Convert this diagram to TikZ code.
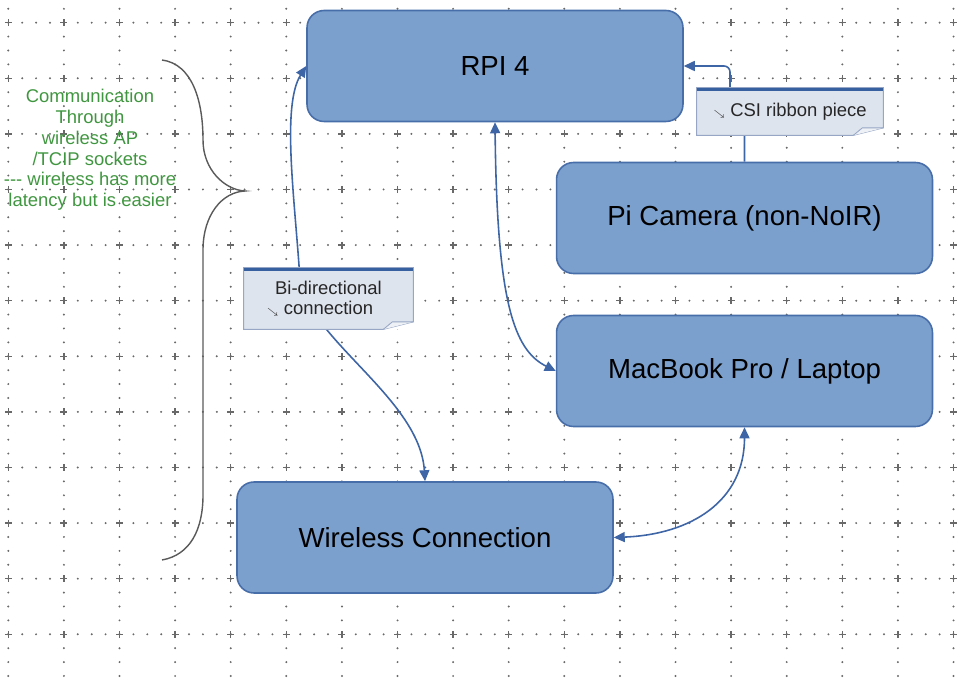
\documentclass[tikz,border=0pt]{standalone}
\usepackage{fontspec}
\setmainfont{Liberation Sans}
\usetikzlibrary{arrows.meta}

\definecolor{boxfill}{RGB}{123,160,205}
\definecolor{boxline}{RGB}{72,110,170}
\definecolor{linkblue}{RGB}{62,101,166}
\definecolor{notefill}{RGB}{222,228,238}
\definecolor{noteline}{RGB}{150,166,196}
\definecolor{notetop}{RGB}{55,96,160}
\definecolor{notefold}{RGB}{238,241,246}
\definecolor{commgreen}{RGB}{64,150,64}
\definecolor{griddot}{RGB}{105,105,105}
\definecolor{bracegray}{RGB}{90,90,90}

\begin{document}
\begin{tikzpicture}[x=0.02cm,y=-0.02cm,
    >={Triangle[length=0.22cm,width=0.2cm]},
    block/.style={draw=boxline, line width=0.9pt, fill=boxfill, rounded corners=0.34cm,
        minimum width=7.52cm, minimum height=2.22cm, font=\fontsize{15.7}{18}\selectfont},
    link/.style={draw=linkblue, line width=0.9pt},
    note/.style={fill=notefill, inner sep=0pt, text=black!85, align=center,
        font=\fontsize{10.5}{11.4}\selectfont}]

    \useasboundingbox (0,0) rectangle (964,678);

    % draw dotted grid
    \foreach \gx in {8.3,63.9,...,960}
    \foreach \gy in {8.8,22.7,...,678}
    \fill[griddot] (\gx,\gy) circle (0.022cm);
    \foreach \gy in {22.7,78.3,...,678}
    \foreach \gx in {8.3,22.2,...,964}
    \fill[griddot] (\gx,\gy) circle (0.022cm);
    \foreach \gx in {8.3,63.9,...,960}
    \foreach \gy in {22.7,78.3,...,678}
    \draw[griddot, line width=0.7pt] (\gx,\gy) +(-3.5,0) -- +(3.5,0) +(0,-3.5) -- +(0,3.5);

    % draw blocks
    \node[block] (rpi) at (495,66) {RPI 4};
    \node[block] (cam) at (744.5,218) {Pi Camera (non-NoIR)};
    \node[block] (mac) at (744.5,371) {MacBook Pro / Laptop};
    \node[block] (wifi) at (425,537.5) {Wireless Connection};

    % draw connections
    \draw[link, <->] (rpi.south) .. controls +(2,180) and +(-42,-21) .. (mac.west);
    \draw[link, <->] (rpi.west) .. controls +(-25,40) and +(-5,-80) .. (300,280)
        .. controls +(10,60) and +(-5,-82) .. (wifi.north);
    \draw[link, <->] (wifi.east) .. controls +(77,-3) and +(0,74) .. (mac.south);
    \draw[link, ->, rounded corners=0.12cm] (cam.north) -- ++(0,-45) -- (730,100) |- (rpi.east);

    % draw notes
    \node[note, minimum width=3.72cm, minimum height=0.94cm] (csi) at (790,111.5)
        {{\tiny$\searrow$}\ CSI ribbon piece};
    \node[note, minimum width=3.38cm, minimum height=1.22cm] (bidi) at (328.5,298.5)
        {Bi-directional\\\llap{{\tiny$\searrow$}\ }connection};
    \foreach \n in {csi,bidi} {
        \fill[white] ([yshift=0.15cm]\n.south east) -- (\n.south east) -- ([xshift=-0.6cm]\n.south east) -- cycle;
        \draw[noteline, line width=0.5pt] (\n.north west) -- (\n.north east) -- ([yshift=0.15cm]\n.south east)
            -- ([xshift=-0.6cm]\n.south east) -- (\n.south west) -- cycle;
        \filldraw[draw=noteline, fill=notefold, line width=0.5pt] ([xshift=-0.6cm]\n.south east)
            -- ([xshift=-0.42cm,yshift=0.15cm]\n.south east) -- ([yshift=0.15cm]\n.south east);
        \draw[notetop, line width=1.8pt] ([yshift=-0.03cm]\n.north west) -- ([yshift=-0.03cm]\n.north east);
    }

    % draw brace and its text
    \draw[bracegray, line width=0.8pt] (162,60) .. controls (192,64) and (203,100) .. (203,140)
        .. controls (203,170) and (225,190) .. (245,191) .. controls (222,192) and (203,215) .. (203,250)
        -- (203,495) .. controls (203,530) and (190,555) .. (162,560);
    \node[text=commgreen, align=center, font=\fontsize{10.5}{11.8}\selectfont] (comm) at (90,150)
        {Communication\\Through\\wireless AP\\/TCIP sockets\\-{}-{}- wireless has more\\latency but is easier};
\end{tikzpicture}
\end{document}
